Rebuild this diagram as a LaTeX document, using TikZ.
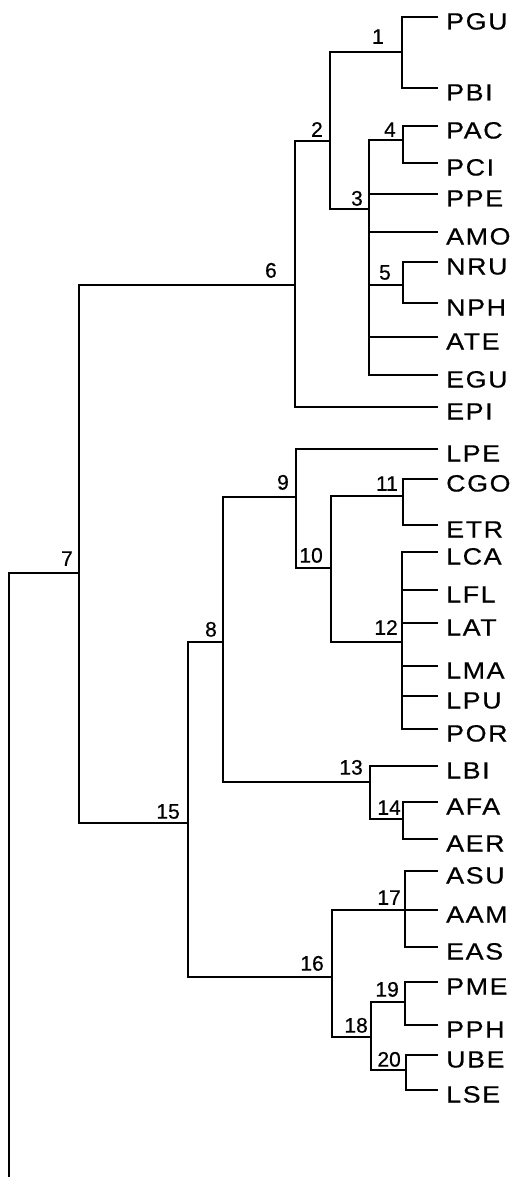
\documentclass[tikz,border=0pt]{standalone}
\usepackage{fontspec}
\setmainfont[FakeBold=0.5]{Liberation Sans}
\newfontfamily\tipfont[FakeStretch=1.14,LetterSpace=7,FakeBold=0.6]{Liberation Sans}
\begin{document}
\begin{tikzpicture}[x=1pt,y=-1pt,
  branch/.style={draw=black,line width=1.7pt},
  tiplab/.style={font=\tipfont\fontsize{23.5}{23.5}\selectfont,anchor=base west,inner sep=0pt},
  numlab/.style={font=\fontsize{21}{21}\selectfont,anchor=south east,inner sep=0pt}]
\useasboundingbox (0,0) rectangle (519,1177);
% internal nodes (vertical x, horizontal y)
\coordinate (root) at (9,1177);
\coordinate (n1) at (402,52);
\coordinate (n2) at (330,141);
\coordinate (n3) at (369,209);
\coordinate (n4) at (403,140);
\coordinate (n5) at (403,285);
\coordinate (n6) at (295,285);
\coordinate (n7) at (79,573);
\coordinate (n8) at (223,642);
\coordinate (n9) at (296,497);
\coordinate (n10) at (331,568);
\coordinate (n11) at (403,496);
\coordinate (n12) at (402,642);
\coordinate (n13) at (370,782);
\coordinate (n14) at (403,819);
\coordinate (n15) at (188,823);
\coordinate (n16) at (332,977);
\coordinate (n17) at (405,910);
\coordinate (n18) at (371,1037);
\coordinate (n19) at (405,1002);
\coordinate (n20) at (406,1070);
% tips
\foreach \t/\y in {PGU/17,PBI/88,PAC/126,PCI/163,PPE/194,AMO/232,NRU/262,NPH/303,ATE/337,EGU/375,EPI/407,LPE/449,CGO/479,ETR/525,LCA/552,LFL/590,LAT/623,LMA/666,LPU/696,POR/729,LBI/766,AFA/802,AER/839,ASU/871,AAM/910,EAS/947,PME/982,PPH/1025,UBE/1055,LSE/1090}{
  \coordinate (\t) at (438,\y);
  \node[tiplab] (lab\t) at (446,\y+12.5) {\t};
}
% connectors
\draw[branch] (root) |- (n7);
\draw[branch] (n7) |- (n6);
\draw[branch] (n7) |- (n15);
\draw[branch] (n6) |- (n2);
\draw[branch] (n6) |- (EPI);
\draw[branch] (n2) |- (n1);
\draw[branch] (n2) |- (n3);
\draw[branch] (n1) |- (PGU);
\draw[branch] (n1) |- (PBI);
\draw[branch] (n3) |- (n4);
\draw[branch] (n3) |- (PPE);
\draw[branch] (n3) |- (AMO);
\draw[branch] (n3) |- (n5);
\draw[branch] (n3) |- (ATE);
\draw[branch] (n3) |- (EGU);
\draw[branch] (n4) |- (PAC);
\draw[branch] (n4) |- (PCI);
\draw[branch] (n5) |- (NRU);
\draw[branch] (n5) |- (NPH);
\draw[branch] (n15) |- (n8);
\draw[branch] (n15) |- (n16);
\draw[branch] (n8) |- (n9);
\draw[branch] (n8) |- (n13);
\draw[branch] (n9) |- (LPE);
\draw[branch] (n9) |- (n10);
\draw[branch] (n10) |- (n11);
\draw[branch] (n10) |- (n12);
\draw[branch] (n11) |- (CGO);
\draw[branch] (n11) |- (ETR);
\foreach \t in {LCA,LFL,LAT,LMA,LPU,POR} \draw[branch] (n12) |- (\t);
\draw[branch] (n13) |- (LBI);
\draw[branch] (n13) |- (n14);
\draw[branch] (n14) |- (AFA);
\draw[branch] (n14) |- (AER);
\draw[branch] (n16) |- (n17);
\draw[branch] (n16) |- (n18);
\foreach \t in {ASU,AAM,EAS} \draw[branch] (n17) |- (\t);
\draw[branch] (n18) |- (n19);
\draw[branch] (n18) |- (n20);
\draw[branch] (n19) |- (PME);
\draw[branch] (n19) |- (PPH);
\draw[branch] (n20) |- (UBE);
\draw[branch] (n20) |- (LSE);
% node numbers
\node[numlab] (l1) at (384,44) {1};
\node[numlab] (l2) at (323,137) {2};
\node[numlab] (l3) at (363,206) {3};
\node[numlab] (l4) at (396,137) {4};
\node[numlab] (l5) at (391,280) {5};
\node[numlab] (l6) at (277,278) {6};
\node[numlab] (l7) at (73,566) {7};
\node[numlab] (l8) at (217,637) {8};
\node[numlab] (l9) at (289,490) {9};
\node[numlab] (l10) at (323,563) {10};
\node[numlab] (l11) at (398,491) {11};
\node[numlab] (l12) at (398,635) {12};
\node[numlab] (l13) at (363,775) {13};
\node[numlab] (l14) at (401,815) {14};
\node[numlab] (l15) at (180,819) {15};
\node[numlab] (l16) at (324,971) {16};
\node[numlab] (l17) at (401,905) {17};
\node[numlab] (l18) at (368,1033) {18};
\node[numlab] (l19) at (399,997) {19};
\node[numlab] (l20) at (401,1067) {20};
\end{tikzpicture}
\end{document}
